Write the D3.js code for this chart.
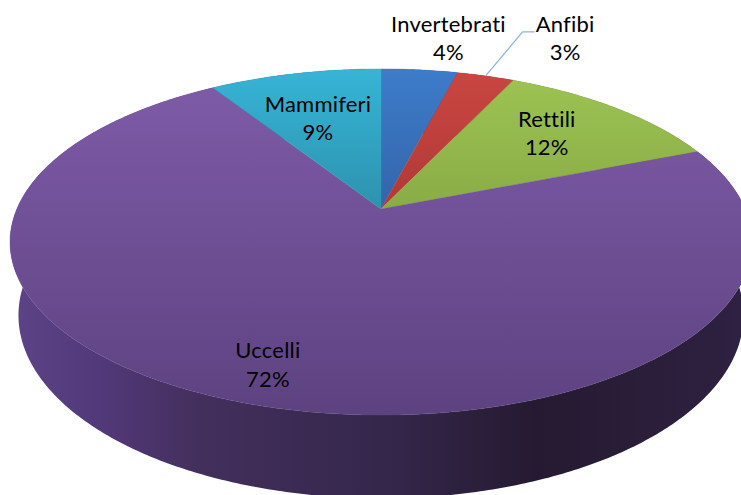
<!DOCTYPE html>
<html><head><meta charset="utf-8">
<script src="https://cdn.jsdelivr.net/npm/d3@7"></script>
<style>body{margin:0;background:#fff;overflow:hidden} text{font-variant-ligatures:none;font-feature-settings:"liga" 0;letter-spacing:0.2px}</style>
</head><body>
<script>
// ---- data ----
const categories = ["Invertebrati", "Anfibi", "Rettili", "Uccelli", "Mammiferi"];
const values = [4, 3, 12, 72, 9];
const percentLabels = ["4%", "3%", "12%", "72%", "9%"];

// ---- styles / layout ----
const W = 741, H = 495;
const topColorsLight = ["#3d7cca", "#ca4642", "#9ec454", "#7f5ca9", "#37b4d6"];
const topColorsDark  = ["#24437a", "#8a2624", "#6a8a2e", "#5d4280", "#1c6274"];
const cam = {cx: 381, cy: 209, f: 1697, L: 4.66, sinB: 0.458, cosB: 0.889, h: 0.228};
// label placement: radial fraction + pixel nudge
const labelLayout = [
  {r: 1.0, dx: 29, dy: -30},
  {r: 1.0, dx: 79.5, dy: -36, leader: true},
  {r: 0.68, dx: 0, dy: -3},
  {r: 0.85, dx: 0, dy: -2},
  {r: 0.70, dx: 0, dy: 10}
];

const svg = d3.select("body").append("svg").attr("width", W).attr("height", H);
const defs = svg.append("defs");

// perspective projection of a point on the disk (angle from far point, clockwise)
function proj(theta, r, depth) {
  const d = cam.L + depth * cam.sinB + r * Math.cos(theta) * cam.cosB;
  const x = cam.cx + cam.f * (r * Math.sin(theta)) / d;
  const y = cam.cy + cam.f * (depth * cam.cosB - r * Math.cos(theta) * cam.sinB) / d;
  return [x, y];
}

const pie = d3.pie().sort(null).startAngle(0).endAngle(2 * Math.PI).value(d => d);
const arcs = pie(values);

function rim(a0, a1, depth) {
  const n = Math.max(8, Math.ceil((a1 - a0) / 0.01));
  return d3.range(n + 1).map(i => proj(a0 + (a1 - a0) * i / n, 1, depth));
}
const line = d3.line();

// side wall gradient
const sg = defs.append("linearGradient").attr("id", "side")
  .attr("gradientUnits", "userSpaceOnUse").attr("x1", 10).attr("x2", 741).attr("y1", 0).attr("y2", 0);
[[0, "#5d4487"], [0.12, "#52397a"], [0.26, "#432f5c"], [0.53, "#33264a"], [0.72, "#251a31"], [1, "#2e2141"]]
  .forEach(([o, c]) => sg.append("stop").attr("offset", o).attr("stop-color", c));

// top gradients
arcs.forEach((a, i) => {
  const g = defs.append("linearGradient").attr("id", "top" + i)
    .attr("gradientUnits", "userSpaceOnUse").attr("x1", 0).attr("x2", 0).attr("y1", 69).attr("y2", 415);
  g.append("stop").attr("offset", 0).attr("stop-color", topColorsLight[i]);
  g.append("stop").attr("offset", 1).attr("stop-color", topColorsDark[i]);
});

// outer walls (only the front ones are visible; top faces cover the rest)
arcs.forEach((a, i) => {
  const pts = rim(a.startAngle, a.endAngle, 0).concat(rim(a.startAngle, a.endAngle, cam.h).reverse());
  svg.append("path").attr("d", line(pts) + "Z")
    .attr("fill", i === 3 ? "url(#side)" : d3.color(topColorsDark[i]).darker(0.8))
    .attr("stroke", "none");
});

// top faces
const center = proj(0, 0, 0);
arcs.forEach((a, i) => {
  const pts = [center].concat(rim(a.startAngle, a.endAngle, 0));
  svg.append("path").attr("d", line(pts) + "Z")
    .attr("fill", `url(#top${i})`).attr("stroke", `url(#top${i})`).attr("stroke-width", 0.4);
});

// labels
const font = "Lato, 'Open Sans', sans-serif";
arcs.forEach((a, i) => {
  const mid = (a.startAngle + a.endAngle) / 2;
  const lay = labelLayout[i];
  const p = proj(mid, lay.r, 0);
  const ax = p[0] + lay.dx, ay = p[1] + lay.dy;
  if (lay.leader) {
    svg.append("path")
      .attr("d", line([p, [ax - 42.5, ay - 8], [ax - 30.5, ay - 8]]))
      .attr("fill", "none").attr("stroke", "#8db4e3").attr("stroke-width", 1.3);
  }
  const t = svg.append("text").attr("text-anchor", "middle")
    .attr("font-family", font).attr("font-size", 22).attr("fill", "#000");
  t.append("tspan").attr("x", ax).attr("y", ay - 8).text(categories[i]);
  t.append("tspan").attr("x", ax).attr("y", ay + 20.5).text(percentLabels[i]);
});
</script>
</body></html>
